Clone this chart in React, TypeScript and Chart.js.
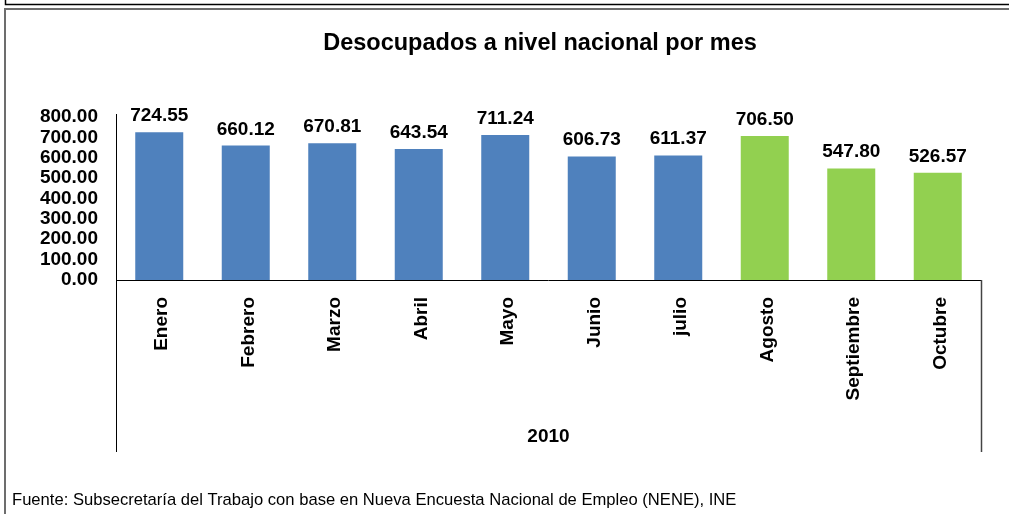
import React, { useEffect, useRef } from "react";
import { Chart, registerables } from "chart.js";

Chart.register(...registerables);

const months = ["Enero", "Febrero", "Marzo", "Abril", "Mayo", "Junio", "julio", "Agosto", "Septiembre", "Octubre"];
const desocupados = [724.55, 660.12, 670.81, 643.54, 711.24, 606.73, 611.37, 706.5, 547.8, 526.57];
const highlightedMonths = ["Agosto", "Septiembre", "Octubre"];
const yearLabel = "2010";
const titleText = "Desocupados a nivel nacional por mes";
const sourceText = "Fuente: Subsecretaría del Trabajo con base en Nueva Encuesta Nacional de Empleo (NENE), INE";

const FONT = "'Liberation Sans', Arial, sans-serif";
const BLUE = "#4F81BD";
const GREEN = "#92D050";

const decorPlugin = {
  id: "decor",
  afterDraw(chart: any) {
    const ctx = chart.ctx as CanvasRenderingContext2D;
    const area = chart.chartArea;
    const W = chart.width;
    const H = chart.height;
    ctx.save();

    // outer frames
    ctx.strokeStyle = "#000";
    ctx.lineWidth = 1.5;
    ctx.beginPath();
    ctx.moveTo(5.5, 0);
    ctx.lineTo(5.5, 4.5);
    ctx.lineTo(W, 4.5);
    ctx.stroke();
    ctx.strokeStyle = "#6d6d6d";
    ctx.lineWidth = 2;
    ctx.beginPath();
    ctx.moveTo(5, H);
    ctx.lineTo(5, 9);
    ctx.lineTo(W, 9);
    ctx.stroke();

    // axes lines
    const groupBottom = 452;
    ctx.strokeStyle = "#000";
    ctx.lineWidth = 1;
    ctx.beginPath();
    ctx.moveTo(Math.round(area.left) + 0.5, area.top - 3);
    ctx.lineTo(Math.round(area.left) + 0.5, groupBottom);
    ctx.moveTo(area.left, Math.round(area.bottom) + 0.5);
    ctx.lineTo(area.right, Math.round(area.bottom) + 0.5);
    ctx.stroke();
    ctx.strokeStyle = "#444";
    ctx.lineWidth = 1.5;
    ctx.beginPath();
    ctx.moveTo(Math.round(area.right) + 0.5, area.bottom);
    ctx.lineTo(Math.round(area.right) + 0.5, groupBottom);
    ctx.stroke();

    // data labels
    const meta = chart.getDatasetMeta(0);
    ctx.fillStyle = "#000";
    ctx.font = `bold 19px ${FONT}`;
    ctx.textAlign = "center";
    ctx.textBaseline = "alphabetic";
    meta.data.forEach((bar: any, i: number) => {
      const v = chart.data.datasets[0].data[i] as number;
      ctx.fillText(v.toFixed(2), bar.x, bar.y - 11);
    });

    // group label
    ctx.font = `bold 19px ${FONT}`;
    ctx.textBaseline = "middle";
    ctx.fillText(yearLabel, (area.left + area.right) / 2, 437);

    // title
    ctx.font = `bold 23.5px ${FONT}`;
    ctx.fillText(titleText, 540, 44);

    // source
    ctx.font = `16.6px ${FONT}`;
    ctx.textAlign = "left";
    ctx.fillText(sourceText, 12, 500);

    ctx.restore();
  },
};

export default function App() {
  const ref = useRef<HTMLCanvasElement | null>(null);
  useEffect(() => {
    if (!ref.current) return;
    const chart = new Chart(ref.current, {
      type: "bar",
      data: {
        labels: months,
        datasets: [
          {
            data: desocupados,
            backgroundColor: months.map((m) => (highlightedMonths.includes(m) ? GREEN : BLUE)),
            categoryPercentage: 1,
            barPercentage: 0.555,
          },
        ],
      },
      options: {
        responsive: false,
        animation: false,
        devicePixelRatio: 1,
        layout: { padding: { top: 117, right: 28, bottom: 0, left: 0 } },
        plugins: {
          legend: { display: false },
          title: { display: false },
          tooltip: { enabled: false },
        },
        scales: {
          x: {
            grid: { display: false },
            border: { display: false },
            ticks: {
              color: "#000",
              font: { family: FONT, size: 19, weight: "bold" },
              maxRotation: 90,
              minRotation: 90,
              autoSkip: false,
              padding: 9,
              labelOffset: 3,
            },
            afterFit: (scale: any) => {
              scale.height = 234;
            },
          },
          y: {
            min: 0,
            max: 800,
            grid: { display: false },
            border: { display: false },
            ticks: {
              stepSize: 100,
              autoSkip: false,
              color: "#000",
              font: { family: FONT, size: 19, weight: "bold", lineHeight: 1 },
              padding: 10,
              callback: (v: any) => Number(v).toFixed(2),
            },
            afterFit: (scale: any) => {
              scale.width = 116;
            },
          },
        },
      },
      plugins: [decorPlugin],
    });
    return () => chart.destroy();
  }, []);
  return (
    <div style={{ position: "absolute", left: 0, top: 0, width: 1009, height: 514, background: "#fff" }}>
      <canvas ref={ref} width={1009} height={514} style={{ display: "block" }} />
    </div>
  );
}
